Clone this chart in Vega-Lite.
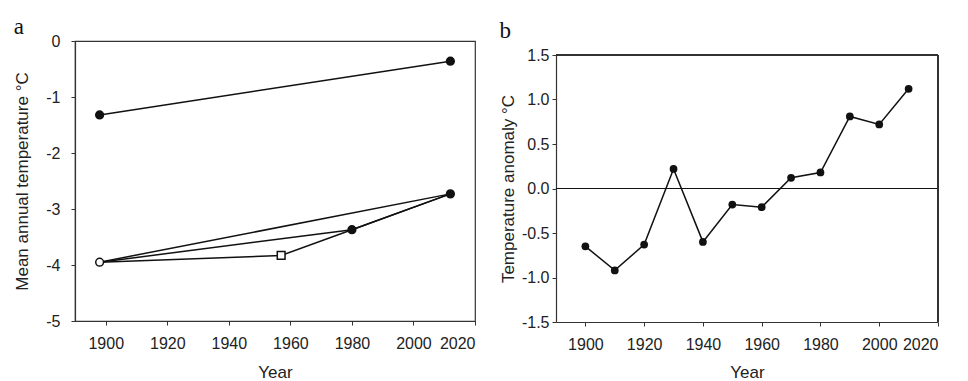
{
  "$schema": "https://vega.github.io/schema/vega-lite/v6.json",
  "background": "white",
  "padding": {"left": 13, "top": 15, "right": 0, "bottom": 0},
  "spacing": 22,
  "config": {
    "view": {"stroke": "#333", "strokeWidth": 1.2},
    "axis": {
      "labelFont": "Liberation Sans", "titleFont": "Liberation Sans",
      "labelFontSize": 16, "titleFontSize": 17, "titleFontWeight": "normal",
      "labelColor": "#222", "titleColor": "#222",
      "domainColor": "#333", "domainWidth": 1.2, "tickColor": "#333", "tickSize": 4,
      "grid": false
    },
    "title": {"font": "Liberation Serif", "fontSize": 23, "fontWeight": "normal", "anchor": "start", "frame": "bounds", "color": "#111"}
  },
  "hconcat": [
    {
      "title": {"text": "a", "offset": -6},
      "width": 400, "height": 280,
      "layer": [
        {
          "data": {"values": [
            {"line": "L1", "year": 1898, "temp": -1.32},
            {"line": "L1", "year": 2012, "temp": -0.36},
            {"line": "L2", "year": 1898, "temp": -3.95},
            {"line": "L2", "year": 2012, "temp": -2.73},
            {"line": "L3", "year": 1898, "temp": -3.95},
            {"line": "L3", "year": 1980, "temp": -3.37},
            {"line": "L3", "year": 2012, "temp": -2.73},
            {"line": "L4", "year": 1898, "temp": -3.95},
            {"line": "L4", "year": 1957, "temp": -3.83},
            {"line": "L4", "year": 1980, "temp": -3.37},
            {"line": "L4", "year": 2012, "temp": -2.73}
          ]},
          "mark": {"type": "line", "color": "#111", "strokeWidth": 1.5},
          "encoding": {
            "x": {"field": "year", "type": "quantitative", "scale": {"domain": [1890, 2020], "nice": false, "zero": false},
                  "axis": {"title": "Year", "values": [1900, 1920, 1940, 1960, 1980, 2000, 2020], "format": "d", "labelPadding": 10, "titlePadding": 13}},
            "y": {"field": "temp", "type": "quantitative", "scale": {"domain": [-5, 0], "nice": false},
                  "axis": {"title": "Mean annual temperature °C", "values": [-5, -4, -3, -2, -1, 0], "labelExpr": "replace(datum.label, '\u2212', '-')", "labelPadding": 11, "titlePadding": 14}},
            "detail": {"field": "line"}
          }
        },
        {
          "data": {"values": [
            {"year": 1898, "temp": -1.32, "marker": "filled"},
            {"year": 2012, "temp": -0.36, "marker": "filled"},
            {"year": 1898, "temp": -3.95, "marker": "open circle"},
            {"year": 1957, "temp": -3.83, "marker": "open square"},
            {"year": 1980, "temp": -3.37, "marker": "filled"},
            {"year": 2012, "temp": -2.73, "marker": "filled"}
          ]},
          "mark": {"type": "point", "filled": true, "size": 60, "stroke": "#111", "strokeWidth": 1.5, "opacity": 1},
          "encoding": {
            "x": {"field": "year", "type": "quantitative"},
            "y": {"field": "temp", "type": "quantitative"},
            "shape": {"field": "marker", "type": "nominal", "scale": {"domain": ["filled", "open circle", "open square"], "range": ["circle", "circle", "square"]}, "legend": null},
            "fill": {"field": "marker", "type": "nominal", "scale": {"domain": ["filled", "open circle", "open square"], "range": ["#111", "white", "white"]}, "legend": null}
          }
        }
      ]
    },
    {
      "title": {"text": "b", "offset": -2},
      "width": 382, "height": 281,
      "view": {"stroke": null},
      "data": {"values": [
        {"year": 1900, "anomaly": -0.65},
        {"year": 1910, "anomaly": -0.92},
        {"year": 1920, "anomaly": -0.63},
        {"year": 1930, "anomaly": 0.22},
        {"year": 1940, "anomaly": -0.60},
        {"year": 1950, "anomaly": -0.18},
        {"year": 1960, "anomaly": -0.21},
        {"year": 1970, "anomaly": 0.12},
        {"year": 1980, "anomaly": 0.18},
        {"year": 1990, "anomaly": 0.81},
        {"year": 2000, "anomaly": 0.72},
        {"year": 2010, "anomaly": 1.12}
      ]},
      "layer": [
        {
          "mark": {"type": "rule", "color": "#111", "strokeWidth": 1.2},
          "encoding": {"y": {"datum": 0, "type": "quantitative"}}
        },
        {
          "mark": {"type": "rule", "color": "#333", "strokeWidth": 1.2},
          "encoding": {"y": {"datum": 1.5, "type": "quantitative"}}
        },
        {
          "mark": {"type": "rule", "color": "#333", "strokeWidth": 1.2},
          "encoding": {"x": {"datum": 2020, "type": "quantitative"}, "y": {"datum": -1.5, "type": "quantitative"}, "y2": {"datum": 1.5}}
        },
        {
          "mark": {"type": "line", "color": "#111", "strokeWidth": 1.5},
          "encoding": {
            "x": {"field": "year", "type": "quantitative", "scale": {"domain": [1890, 2020], "nice": false, "zero": false},
                  "axis": {"title": "Year", "values": [1900, 1920, 1940, 1960, 1980, 2000, 2020], "format": "d", "labelPadding": 10, "titlePadding": 12}},
            "y": {"field": "anomaly", "type": "quantitative", "scale": {"domain": [-1.5, 1.5], "nice": false, "range": [281, 14]},
                  "axis": {"title": "Temperature anomaly °C", "values": [-1.5, -1, -0.5, 0, 0.5, 1, 1.5], "format": ".1f", "labelExpr": "replace(datum.label, '\u2212', '-')", "labelPadding": 3, "titlePadding": 4}}
          }
        },
        {
          "mark": {"type": "point", "filled": true, "size": 60, "color": "#111", "opacity": 1},
          "encoding": {
            "x": {"field": "year", "type": "quantitative"},
            "y": {"field": "anomaly", "type": "quantitative"}
          }
        }
      ]
    }
  ]
}
